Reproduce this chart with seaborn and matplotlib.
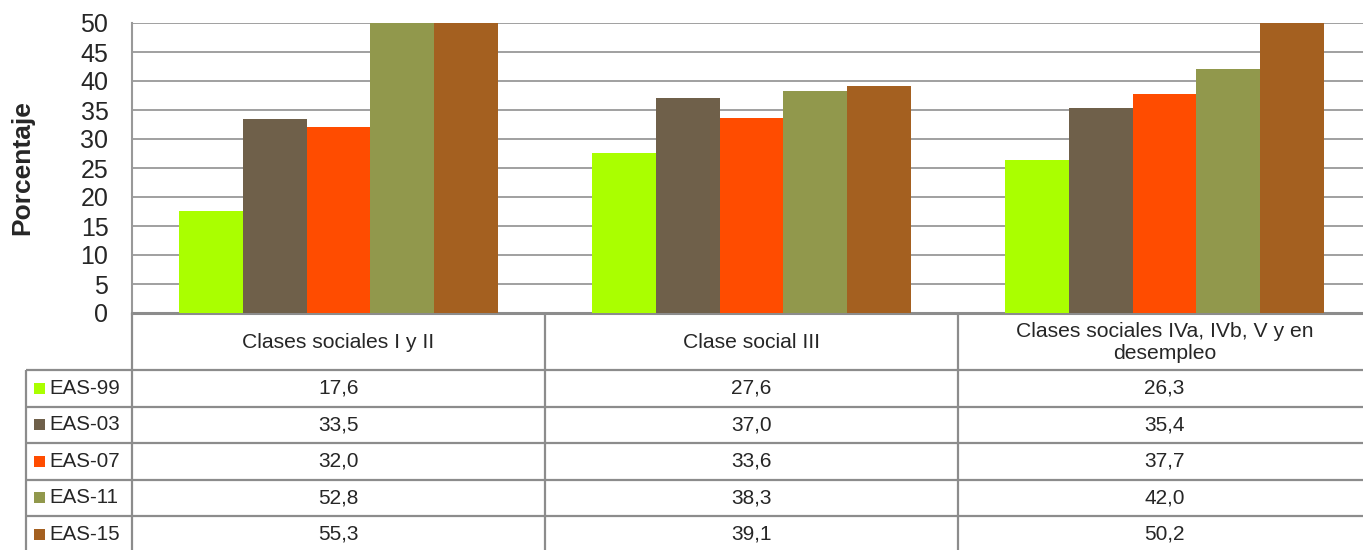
import matplotlib
matplotlib.use("Agg")
import matplotlib.pyplot as plt
import numpy as np
import pandas as pd
import seaborn as sns

# ── Data ──
categories = [
    "Clases sociales I y II",
    "Clase social III",
    "Clases sociales IVa, IVb, V y en\ndesempleo",
]
series_names = ["EAS-99", "EAS-03", "EAS-07", "EAS-11", "EAS-15"]
eas_99 = [17.6, 27.6, 26.3]
eas_03 = [33.5, 37.0, 35.4]
eas_07 = [32.0, 33.6, 37.7]
eas_11 = [52.8, 38.3, 42.0]
eas_15 = [55.3, 39.1, 50.2]
colors = ["#AAFF00", "#6F604A", "#FF4C00", "#91984C", "#A46020"]
y_ticks = list(range(0, 55, 5))

values = [eas_99, eas_03, eas_07, eas_11, eas_15]
df = pd.DataFrame(
    [(cat, s, v) for s, vals in zip(series_names, values) for cat, v in zip(categories, vals)],
    columns=["Clase", "Encuesta", "Porcentaje"],
)

W, H = 1363, 550
sns.set_style("white")
plt.rcParams["font.family"] = ["Liberation Sans", "DejaVu Sans"]

fig = plt.figure(figsize=(W / 100, H / 100), dpi=100)
# the plot area runs a little past the right edge of the picture
left, right, top, bottom = 132, 1371, 23, 313
ax = fig.add_axes([left / W, 1 - bottom / H, (right - left) / W, (bottom - top) / H])

grid_col = "#999999"
sns.barplot(
    data=df, x="Clase", y="Porcentaje", hue="Encuesta", order=categories,
    hue_order=series_names, palette=colors, width=0.77, saturation=1,
    edgecolor="none", linewidth=0, ax=ax, legend=False, zorder=3,
)
ax.set_ylim(0, 50)
ax.set_xlim(-0.5, len(categories) - 0.5)
ax.set_yticks(y_ticks)
ax.set_yticklabels([str(t) for t in y_ticks], fontsize=18)
ax.tick_params(axis="y", length=0, pad=17)
ax.set_xticks([])
ax.set_xlabel("")
ax.set_ylabel("Porcentaje", fontsize=19, fontweight="bold")
ax.yaxis.set_label_coords(-(left - 34) / (right - left), 0.5)
ax.grid(axis="y", color=grid_col, linewidth=1.3, zorder=0)
ax.set_axisbelow(True)
for s in ["top", "right"]:
    ax.spines[s].set_visible(False)
ax.spines["left"].set_color(grid_col)
ax.spines["left"].set_linewidth(1.5)
ax.spines["bottom"].set_color("#8c8c8c")
ax.spines["bottom"].set_linewidth(2.2)

# ── Data table below the chart (pixel coordinates) ──
tab = fig.add_axes([0, 0, 1, (H - bottom) / H])
tab.set_xlim(0, W)
tab.set_ylim(H, bottom)
tab.axis("off")

col_edges = np.linspace(left, right, len(categories) + 1)
header_bottom = 370
row_h = 36.5
label_left = 26
line_kw = dict(color="#8c8c8c", linewidth=1.6, solid_capstyle="butt")

for x in col_edges[:-1]:
    tab.plot([x, x], [bottom, H], **line_kw)
tab.plot([label_left, label_left], [header_bottom, H], **line_kw)
for i in range(len(series_names)):
    y = header_bottom + i * row_h
    tab.plot([label_left, W], [y, y], **line_kw)

for j, cat in enumerate(categories):
    cx = (col_edges[j] + col_edges[j + 1]) / 2
    tab.text(cx, (bottom + header_bottom) / 2 + 1, cat, ha="center", va="center",
             fontsize=15.2, linespacing=1.2)

for i, (name, vals, c) in enumerate(zip(series_names, values, colors)):
    cy = header_bottom + (i + 0.5) * row_h
    tab.add_patch(plt.Rectangle((34, cy - 5.5), 11, 11, color=c, lw=0))
    tab.text(49, cy, name, ha="left", va="center", fontsize=14.8)
    for j, v in enumerate(vals):
        cx = (col_edges[j] + col_edges[j + 1]) / 2
        tab.text(cx, cy, f"{v:.1f}".replace(".", ","), ha="center", va="center",
                 fontsize=15)

fig.savefig("out.png", dpi=100)
